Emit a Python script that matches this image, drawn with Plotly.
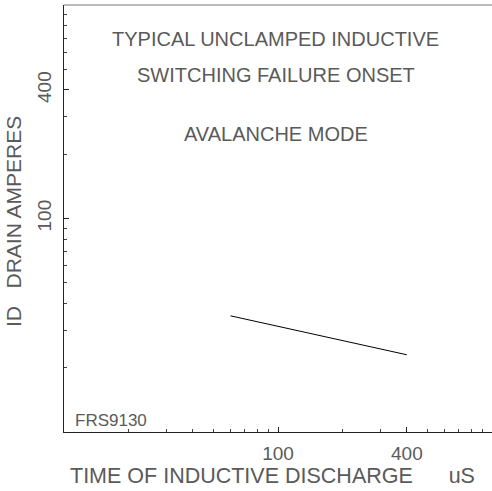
import plotly.graph_objects as go

# Data (log-log)
discharge_time_us = [60, 400]
drain_current_a = [35, 23]

x_tick_vals = [100, 400]
x_tick_text = ["100", "400"]
y_tick_vals = [100, 400]
y_tick_text = ["100", "400"]
minor_vals = [m * d for d in (10, 100) for m in range(2, 10)]

title_lines = ["TYPICAL UNCLAMPED INDUCTIVE", "SWITCHING FAILURE ONSET", "AVALANCHE MODE"]
x_title = "TIME OF INDUCTIVE DISCHARGE      uS"
y_title = "ID   DRAIN AMPERES"
part_number = "FRS9130"

FONT = "Liberation Sans, Arial, sans-serif"
TXT = "#5a5a5a"

fig = go.Figure()
fig.add_trace(go.Scatter(
    x=discharge_time_us, y=drain_current_a, mode="lines",
    line=dict(color="black", width=1), showlegend=False, hoverinfo="skip"))

axis_common = dict(
    type="log", range=[1, 3], showgrid=False, zeroline=False, automargin=False,
    showline=True, linecolor="#222222", linewidth=1,
    ticks="inside", ticklen=5, tickcolor="#222222", tickwidth=1,
    tickfont=dict(family=FONT, size=19, color=TXT),
    minor=dict(tickvals=minor_vals, ticks="inside", ticklen=3,
               tickcolor="#444444", tickwidth=1, showgrid=False),
)

fig.update_xaxes(**axis_common, tickvals=x_tick_vals, ticktext=x_tick_text,
                 mirror=False, ticklabelstandoff=4)
fig.update_yaxes(**axis_common, tickvals=y_tick_vals, ticktext=y_tick_text,
                 tickangle=-90, ticklabelstandoff=4)

# axis titles
fig.add_annotation(text=x_title, xref="paper", yref="paper",
                   x=(272.5 - 64) / 428, y=-(476 - 432) / 427,
                   showarrow=False, xanchor="center", yanchor="middle",
                   font=dict(family=FONT, size=21.5, color=TXT))
fig.add_annotation(text=y_title, xref="paper", yref="paper",
                   x=(13 - 64) / 428, y=1 - (222 - 5) / 427, textangle=-90,
                   showarrow=False, xanchor="center", yanchor="middle",
                   font=dict(family=FONT, size=21, color=TXT))

# top border line
fig.add_shape(type="line", xref="paper", yref="paper", x0=0, x1=1, y0=1, y1=1,
              line=dict(color="#777777", width=1))

ys = [0.9215, 0.836, 0.698]
for t, yy in zip(title_lines, ys):
    fig.add_annotation(text=t, xref="paper", yref="paper", x=0.495, y=yy,
                       showarrow=False, xanchor="center", yanchor="middle",
                       font=dict(family=FONT, size=20, color=TXT))
fig.add_annotation(text=part_number, xref="paper", yref="paper", x=0.02, y=0.027,
                   showarrow=False, xanchor="left", yanchor="middle",
                   font=dict(family=FONT, size=17, color=TXT))

fig.update_layout(width=492, height=491, margin=dict(l=64, r=0, t=5, b=59),
                  plot_bgcolor="white", paper_bgcolor="white")

fig.write_html("out.html", config={"responsive": False, "displayModeBar": False},
               post_script="document.body.style.margin='0';document.body.style.overflow='hidden';")
